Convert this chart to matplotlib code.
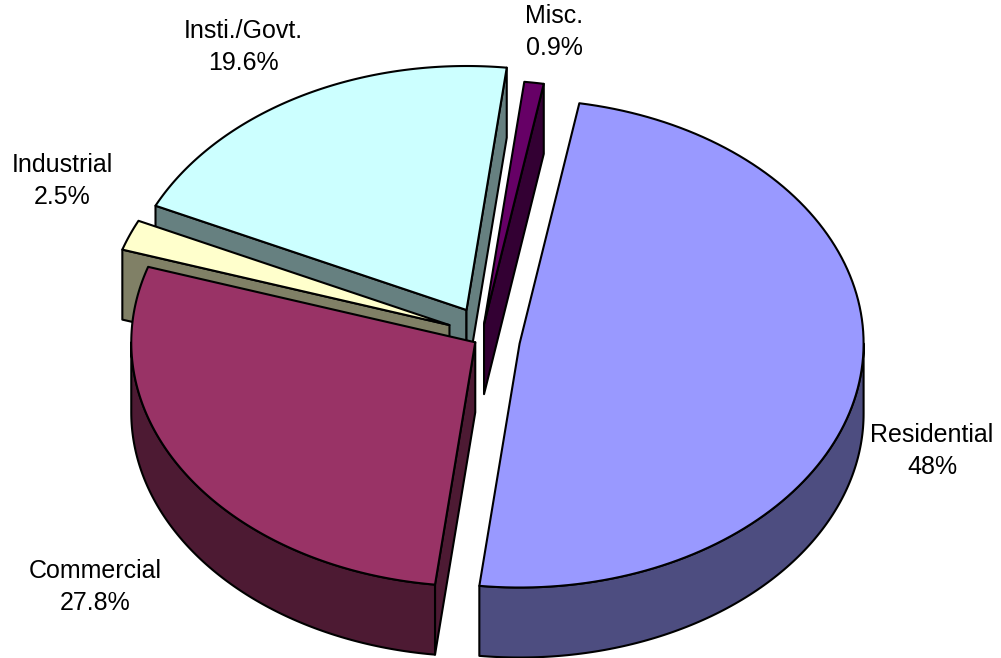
import numpy as np
import matplotlib
matplotlib.use('Agg')
import matplotlib.pyplot as plt
from matplotlib.patches import Polygon

# Datos del pie (en sentido horario desde start_angle)
categorias = ['Residential', 'Commercial', 'Industrial', 'Insti./Govt.', 'Misc.']
# tamaño medido en el dibujo: Residential e Industrial no coinciden del todo con su rotulo
valores = [48.5, 27.8, 2.0, 19.6, 0.9]
rotulos = ['48%', '27.8%', '2.5%', '19.6%', '0.9%']

colores_top = ['#9999FF', '#993366', '#FFFFCC', '#CCFFFF', '#660066']
colores_lado = ['#4D4D80', '#4D1A33', '#808066', '#668080', '#330033']
explode = [38, 8, 35, 32, 14]

# Geometria del pie en pixeles
centro = (482, 338)
a, b = 344, 244
prof = 70
start_angle = 10
lw = 1.5

# Donde va cada etiqueta
pos_labels = [(932, 451), (95, 587), (62, 181), (243, 47), (554, 32)]

plt.rcParams['font.family'] = ['Liberation Sans', 'DejaVu Sans']
fig = plt.figure(figsize=(10.01, 6.58), dpi=100)
ax = fig.add_axes([0, 0, 1, 1])
ax.set_xlim(0, 1001)
ax.set_ylim(658, 0)
ax.axis('off')

angulos = np.array(valores) / sum(valores) * 360
fin = start_angle + np.cumsum(angulos)
ini = fin - angulos


def poly(pts, color, z):
    ax.add_patch(Polygon(pts, closed=True, facecolor=color, edgecolor='black',
                         linewidth=lw, joinstyle='round', zorder=z))


def punto(cx, cy, ang):
    ang = np.radians(ang)
    return np.column_stack([cx + a * np.sin(ang), cy - b * np.cos(ang)])


# Se pinta de atras hacia adelante
orden = [4, 3, 2, 1, 0]
for z, i in enumerate(orden):
    medio = np.radians((ini[i] + fin[i]) / 2)
    cx = centro[0] + explode[i] * np.sin(medio)
    cy = centro[1] - explode[i] * np.cos(medio)
    arco = punto(cx, cy, np.linspace(ini[i], fin[i], 120))
    apex = np.array([cx, cy])
    abajo = [0, prof]
    base = z * 10

    # caras de corte, solo las que miran al observador
    if np.sin(np.radians(ini[i])) < 0:
        poly([apex, arco[0], arco[0] + abajo, apex + abajo], colores_lado[i], base + 1)
    if np.sin(np.radians(fin[i])) > 0:
        poly([apex, arco[-1], arco[-1] + abajo, apex + abajo], colores_lado[i], base + 1)

    # cara exterior, solo la mitad de adelante (90 a 270 grados)
    desde, hasta = max(ini[i], 90), min(fin[i], 270)
    if desde < hasta:
        frente = punto(cx, cy, np.linspace(desde, hasta, 120))
        poly(np.vstack([frente, (frente + abajo)[::-1]]), colores_lado[i], base + 2)

    # tapa
    poly(np.vstack([[apex], arco]), colores_top[i], base + 3)

for i, cat in enumerate(categorias):
    ax.text(pos_labels[i][0], pos_labels[i][1], f'{cat}\n{rotulos[i]}',
            ha='center', va='center', ma='center', fontsize=18, color='black',
            linespacing=1.4, zorder=100)

fig.savefig('out.png', dpi=100, facecolor='white')
plt.close()
